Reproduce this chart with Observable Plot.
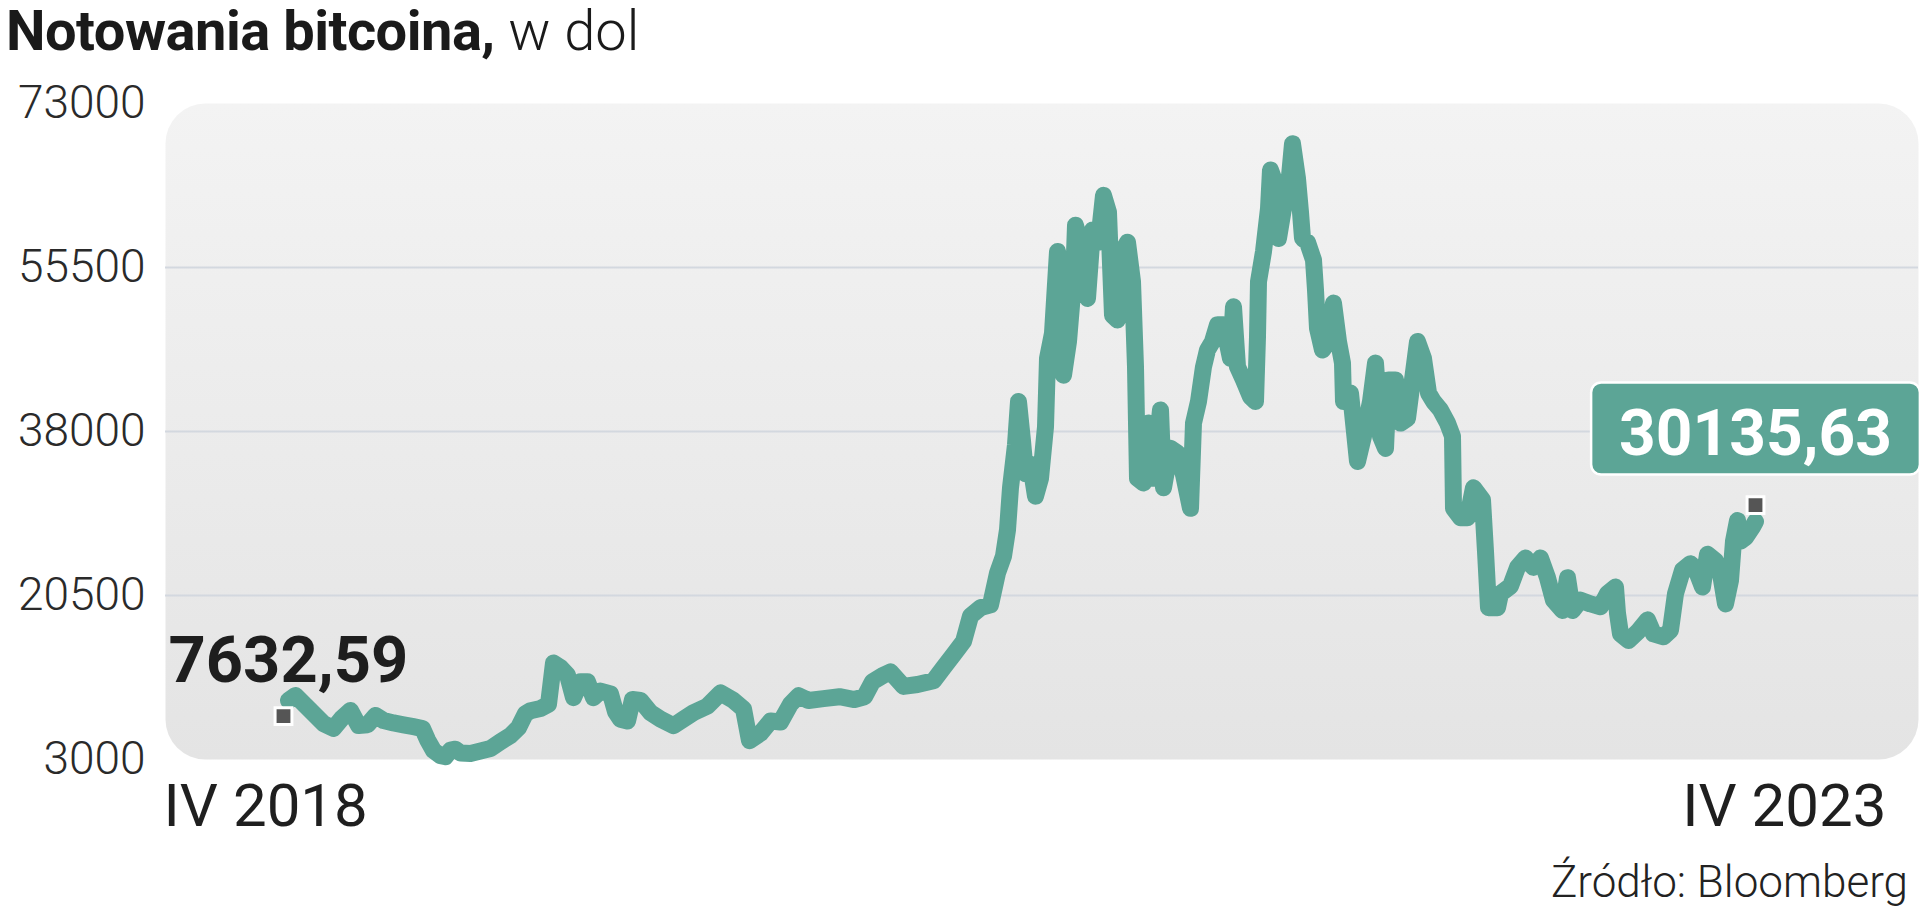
<!DOCTYPE html>
<html>
<head>
<meta charset="utf-8">
<script src="https://cdn.jsdelivr.net/npm/d3@7"></script>
<script src="https://cdn.jsdelivr.net/npm/@observablehq/plot@0.6"></script>
<style>
  html, body { margin: 0; padding: 0; background: #ffffff; }
  body { width: 1920px; height: 910px; position: relative; overflow: hidden; font-family: Roboto, "Noto Sans", sans-serif; }
  #title { position: absolute; left: 6px; top: -4px; height: 70px; line-height: 70px; font-size: 56px; color: #1a1a1a; white-space: nowrap; }
  #title b { font-weight: 700; letter-spacing: -0.5px; }
  #title span { font-weight: 300; }
  #chart { position: absolute; left: 0; top: 70px; }
  #caption { position: absolute; right: 12px; top: 857px; line-height: 50px; font-size: 44px; font-weight: 300; color: #222; white-space: nowrap; }
</style>
</head>
<body>
<div id="title"><b>Notowania bitcoina,</b><span> w dol</span></div>
<div id="chart"></div>
<div id="caption">Źródło: Bloomberg</div>
<script>
// observation number along the time axis (IV 2018 = 0, IV 2023 = 1472)
const obs = [
  5,12,20,30,40,50,59,67,75,84,
  92,100,110,120,130,139,144,150,157,162,
  167,172,177,187,197,207,217,227,235,242,
  247,257,265,270,277,284,290,297,304,310,
  317,327,332,337,344,349,357,367,377,390,
  400,410,424,437,450,460,466,477,487,497,
  507,515,525,540,556,571,581,589,600,607,
  620,634,650,660,670,680,687,697,707,714,
  720,724,727,732,735,739,742,747,752,757,
  762,764,769,774,779,780,785,790,792,799,
  804,809,815,820,825,829,834,839,844,849,
  852,854,860,865,870,877,880,887,894,900,
  907,910,915,920,924,929,934,940,947,950,
  954,960,967,972,974,975,980,985,987,990,
  995,1000,1005,1009,1014,1017,1019,1024,1030,1032,
  1034,1039,1045,1050,1055,1059,1060,1067,1074,1080,
  1087,1092,1097,1102,1105,1112,1117,1124,1129,1134,
  1140,1145,1150,1157,1164,1169,1170,1177,1184,1190,
  1199,1202,1205,1214,1217,1227,1234,1242,1250,1257,
  1264,1270,1279,1284,1289,1297,1307,1317,1324,1332,
  1334,1337,1345,1354,1364,1370,1380,1387,1392,1399,
  1407,1414,1419,1424,1432,1437,1442,1447,1450,1454,
  1457,1462,1469,1472
];
// bitcoin price, USD
const price = [
  9300,9830,8980,7910,6840,6310,7480,8230,6630,6700,
  7700,7160,6900,6700,6500,6300,5100,3960,3400,3300,
  4000,4100,3700,3640,3900,4170,4900,5560,6400,7900,
  8200,8440,8900,13300,12800,12000,9600,11300,11300,9600,
  10300,10000,8100,7300,7100,9400,9300,8000,7300,6600,
  7300,8000,8700,10100,9300,8400,5000,5800,7100,7000,
  8900,9800,9300,9500,9700,9400,9700,11300,12000,12350,
  10800,11000,11400,12800,14200,15600,18300,19200,19500,22900,
  24700,27500,32000,36600,41200,37000,33500,34500,31100,33000,
  38500,45800,48500,57200,54900,44000,47600,54000,60000,57200,
  52200,59500,58200,63200,61400,50400,49900,57200,58200,54000,
  44900,33000,32500,38900,33000,40300,32000,36200,35700,33400,
  29800,38900,41200,44900,46700,47600,49400,49400,45800,51300,
  44900,43500,41700,41200,48100,54000,57200,61800,65900,65000,
  58600,61800,64100,68700,65000,61400,58600,58200,56300,53100,
  49000,46700,47600,51700,47600,45300,41200,42100,34800,37500,
  41200,45300,37500,36200,43500,43500,38900,39400,43500,47600,
  45800,42100,41200,40300,38900,37500,29800,28800,28800,32000,
  30700,25200,19200,19200,20700,21500,23500,24500,23500,24500,
  22400,20000,18900,22400,18900,20000,19600,19300,20700,21400,
  18600,16400,15700,16600,17900,16400,16100,16800,20700,23200,
  23900,22800,21400,24900,24200,22800,19600,22100,26300,28500,
  26300,26700,27800,28400
];
const endObs = [0, 1472];
const endValues = [7632.59, 30135.63];
const endLabels = ["7632,59", "30135,63"];
const yTicks = [3000, 20500, 38000, 55500, 73000];
const gridValues = [20500, 38000, 55500];
const xTickLabels = ["IV 2018", "IV 2023"];

const TEAL = "#5ca596";
const series = obs.map((o, i) => ({obs: o, price: price[i]}));
const ends = endObs.map((o, i) => ({obs: o, price: endValues[i], label: endLabels[i]}));

const plot = Plot.plot({
  width: 1920,
  height: 770,
  marginLeft: 165,
  marginRight: 2,
  marginTop: 33,
  marginBottom: 81,
  x: {domain: [0, 1472], insetLeft: 118, insetRight: 163},
  y: {domain: [3000, 73000]},
  style: {fontFamily: "Roboto, sans-serif", background: "transparent", overflow: "visible"},
  marks: [
    Plot.frame({fill: "url(#panelGrad)", stroke: "none", rx: 40, ry: 40}),
    Plot.gridY(gridValues, {stroke: "#d3d8df", strokeOpacity: 1, strokeWidth: 2}),
    Plot.axisY(yTicks, {tickSize: 0, tickPadding: 20, tickFormat: d3.format("d"), fontSize: 46, fontWeight: 300, fill: "#2a2a2a", label: null}),
    Plot.axisX([endObs[0]], {tickSize: 0, tickPadding: 24, tickFormat: () => xTickLabels[0], textAnchor: "start", dx: -120, fontSize: 60, fill: "#1f1f1f", label: null}),
    Plot.axisX([endObs[1]], {tickSize: 0, tickPadding: 24, tickFormat: () => xTickLabels[1], textAnchor: "end", dx: 131, fontSize: 60, fill: "#1f1f1f", label: null}),
    Plot.line(series, {x: "obs", y: "price", stroke: TEAL, strokeWidth: 17, strokeLinejoin: "round", strokeLinecap: "round"}),
    Plot.text(ends.slice(0, 1), {x: "obs", y: "price", text: "label", textAnchor: "start", lineAnchor: "bottom", dx: -115, dy: -34, fontSize: 65, fontWeight: 700, fill: "#1e1e1e"}),
    Plot.text(ends.slice(1), {x: "obs", y: "price", text: "label", textAnchor: "middle", lineAnchor: "bottom", dx: 0, dy: -50, fontSize: 64, fontWeight: 700, fill: "#ffffff"}),
    Plot.dot(ends, {x: "obs", y: "price", symbol: "square", r: 9.5, fill: "#555555", stroke: "#ffffff", strokeWidth: 3})
  ]
});
document.getElementById("chart").appendChild(plot);

// gradient for the rounded panel
const svg = d3.select(plot);
const defs = svg.insert("defs", ":first-child");
const lg = defs.append("linearGradient").attr("id", "panelGrad").attr("x1", 0).attr("y1", 0).attr("x2", 0).attr("y2", 1);
lg.append("stop").attr("offset", "0%").attr("stop-color", "#f3f3f3");
lg.append("stop").attr("offset", "100%").attr("stop-color", "#e4e4e4");

// rounded teal box behind the last value label
svg.selectAll("text").each(function () {
  if (this.textContent === endLabels[1]) {
    const bb = this.getBBox();
    const fs = 64;
    const baseline = bb.y + bb.height - 0.244 * fs;
    const r = d3.select(this.parentNode).insert("rect", () => this);
    r.attr("x", bb.x - 28).attr("width", bb.width + 56)
     .attr("y", baseline - 0.72 * fs - 27).attr("height", 0.72 * fs + 27 + 19)
     .attr("rx", 10).attr("fill", TEAL).attr("stroke", "#ffffff").attr("stroke-width", 2.5);
    const t = this.getAttribute("transform");
    if (t) r.attr("transform", t);
  }
});
</script>
</body>
</html>
